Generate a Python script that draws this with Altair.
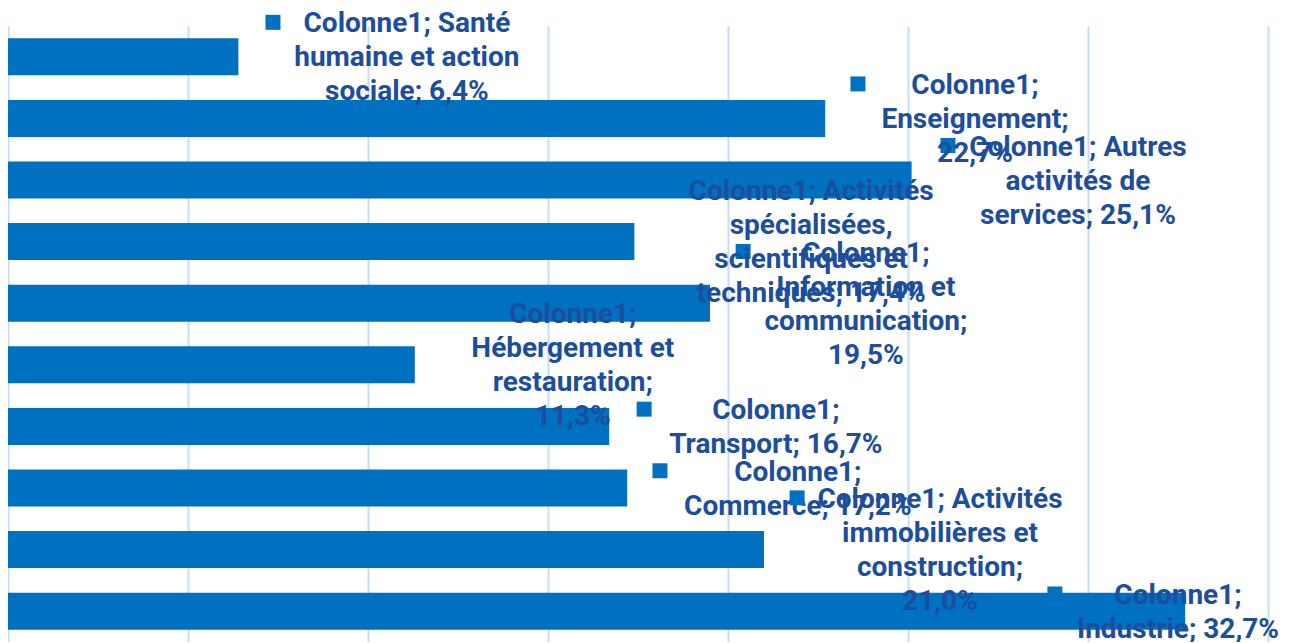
import altair as alt
import pandas as pd

# ---- data ----
categories = [
    "Santé humaine et action sociale",
    "Enseignement",
    "Autres activités de services",
    "Activités spécialisées, scientifiques et techniques",
    "Information et communication",
    "Hébergement et restauration",
    "Transport",
    "Commerce",
    "Activités immobilières et construction",
    "Industrie",
]
values = [6.4, 22.7, 25.1, 17.4, 19.5, 11.3, 16.7, 17.2, 21.0, 32.7]
label_lines = [
    ["Colonne1; Santé", "humaine et action", "sociale; 6,4%"],
    ["Colonne1;", "Enseignement;", "22,7%"],
    ["Colonne1; Autres", "activités de", "services; 25,1%"],
    ["Colonne1; Activités", "spécialisées,", "scientifiques et", "techniques; 17,4%"],
    ["Colonne1;", "Information et", "communication;", "19,5%"],
    ["Colonne1;", "Hébergement et", "restauration;", "11,3%"],
    ["Colonne1;", "Transport; 16,7%"],
    ["Colonne1;", "Commerce; 17,2%"],
    ["Colonne1; Activités", "immobilières et", "construction;", "21,0%"],
    ["Colonne1;", "Industrie; 32,7%"],
]

# ---- label layout (in value units along x) ----
label_center_x = [11.08, 26.86, 29.72, 22.31, 23.83, 15.69, 21.33, 21.94, 25.89, 32.5]
marker_x = [7.36, 23.61, 26.11, 18.31, 20.42, 12.28, 17.67, 18.11, 21.92, 29.08]

BAR = "#0070C0"
TXT = "#1C4E9D"
GRID = "#C8DCF4"
LINE_H = 34

df = pd.DataFrame({
    "cat": categories,
    "val": values,
    "label": ["\n".join(l) for l in label_lines],
    "nlines": [len(l) for l in label_lines],
    "lx": label_center_x,
    "mx": marker_x,
})

yenc = alt.Y("cat:N", sort=categories, axis=None,
             scale=alt.Scale(paddingInner=0.4, paddingOuter=0.2))
xscale = alt.Scale(domain=[0, 35], nice=False, zero=True)

base = alt.Chart(df)

bars = base.mark_bar(color=BAR).encode(
    x=alt.X("val:Q", scale=xscale,
            axis=alt.Axis(values=[0, 5, 10, 15, 20, 25, 30, 35], labels=False,
                          ticks=False, domain=False, title=None,
                          grid=True, gridColor=GRID, gridWidth=2)),
    y=yenc,
)

layers = [bars]
for n in [2, 3, 4]:
    sq = base.transform_filter(alt.datum.nlines == n).mark_square(
        size=225, filled=True, opacity=1, color=BAR
    ).encode(
        x=alt.X("mx:Q", scale=xscale),
        y=yenc,
        yOffset=alt.value(18.5 - (n - 1) * 17.25),
    )
    txt = base.transform_filter(alt.datum.nlines == n).mark_text(
        font="Roboto", fontWeight="bold", fontSize=28, color=TXT,
        align="center", baseline="middle", lineBreak="\n", lineHeight=LINE_H,
        dy=-(n - 1) * LINE_H / 2 + 1.5,
    ).encode(
        x=alt.X("lx:Q", scale=xscale),
        y=yenc,
        text="label:N",
    )
    layers += [sq, txt]

chart = alt.layer(*layers).properties(
    width=1260, height=616,
    padding={"left": 0, "top": 18, "right": 17, "bottom": 0},
    autosize=alt.AutoSizeParams(type="none"),
).configure_view(stroke=None)

chart.save("out.html", embed_options={"renderer": "svg", "actions": False})
